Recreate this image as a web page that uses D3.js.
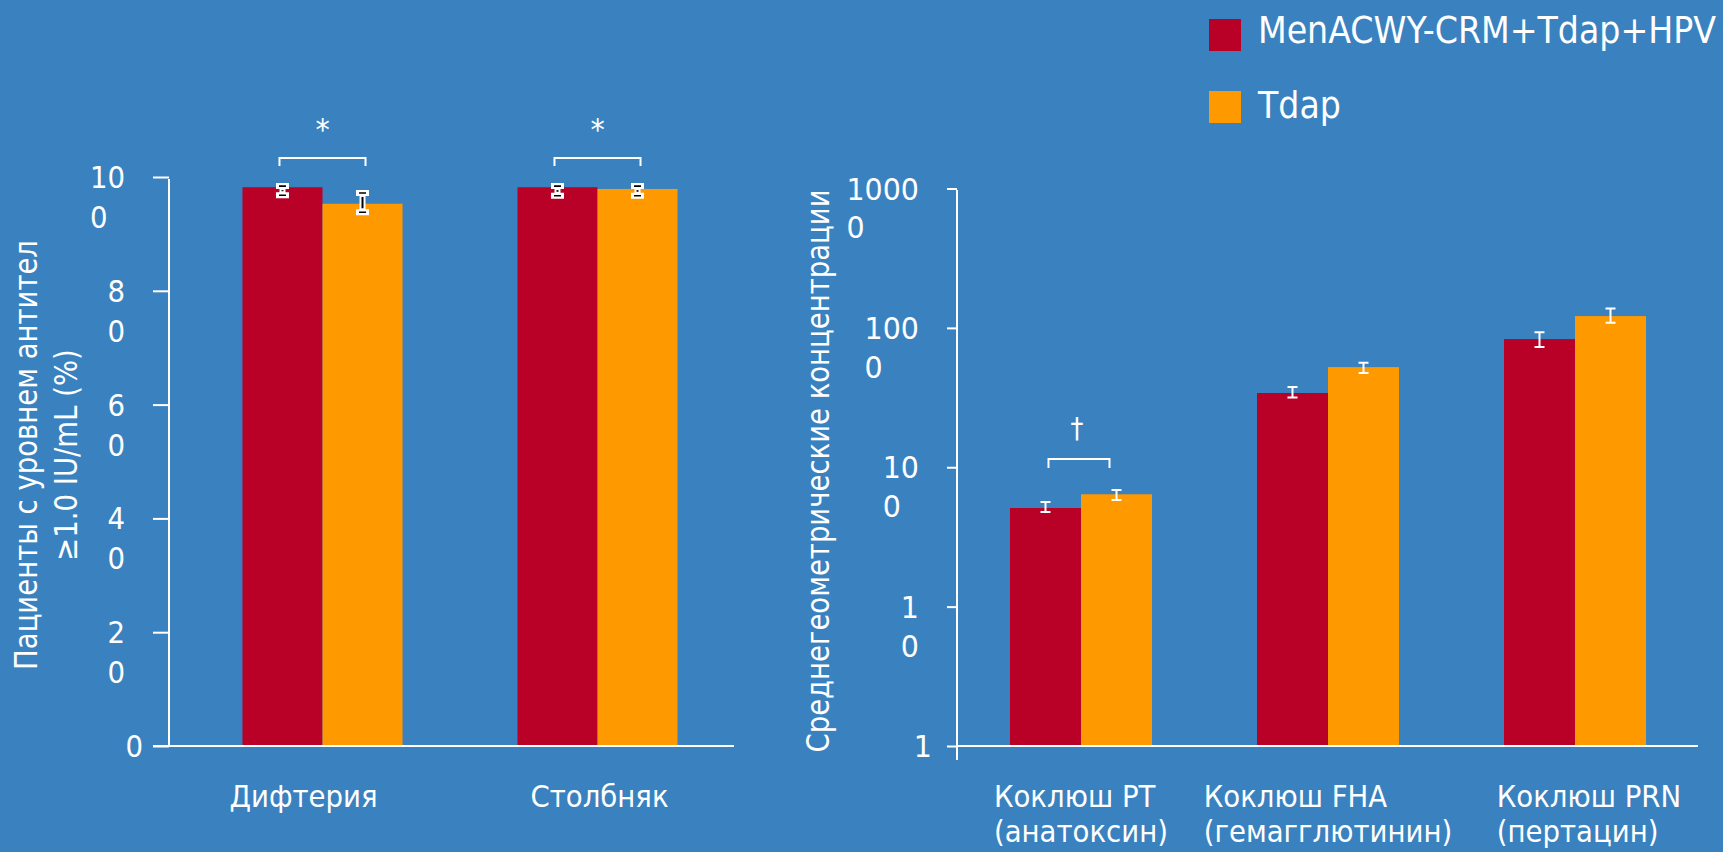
<!DOCTYPE html>
<html><head><meta charset="utf-8">
<script src="https://cdn.jsdelivr.net/npm/d3@7"></script>
<style>html,body{margin:0;padding:0;background:#3a82bf;overflow:hidden}svg{display:block}</style>
</head><body>
<svg id="chart" width="1723" height="852"></svg>
<script>
// ---------- DATA ----------
const seriesNames = ["MenACWY-CRM+Tdap+HPV", "Tdap"];
const seriesColors = ["#b90027", "#ff9900"];

const leftCategories = ["Дифтерия", "Столбняк"];
const leftValues = [[98.2, 95.3], [98.2, 97.9]];
const leftLow    = [[96.8, 93.8], [96.7, 96.7]];
const leftHigh   = [[98.4, 97.2], [98.4, 98.4]];
const leftTicks  = [0, 20, 40, 60, 80, 100];
const leftMarks  = ["*", "*"];
const leftTitle  = ["Пациенты с уровнем антител", "≥1.0 IU/mL (%)"];

const rightCategories = [["Коклюш PT", "(анатоксин)"], ["Коклюш FHA", "(гемагглютинин)"], ["Коклюш PRN", "(пертацин)"]];
const rightValues = [[51, 64], [341, 523], [831, 1215]];
const rightLow    = [[47.7, 58.2], [317, 474], [728, 1088]];
const rightHigh   = [[56.3, 68.6], [376, 562], [929, 1380]];
const rightTicks  = [1, 10, 100, 1000, 10000];
const rightMarks  = ["†", "", ""];
const rightTitle  = "Среднегеометрические концентрации";

// ---------- STYLE / LAYOUT ----------
const FONT = "'DejaVu Sans', Verdana, sans-serif";
const SX = 0.92;           // horizontal condensing for labels (Tahoma-like)
const SX_TITLE = 0.86;
const SX_LEGEND = 0.875;
const WHITE = "#ffffff";
const svg = d3.select("#chart");
svg.append("rect").attr("width", 1723).attr("height", 852).attr("fill", "#3a82bf");

function txt(g, x, y, s, size, anchor, rotate, sx) {
  const k = sx || SX;
  const grp = g.append("g").attr("transform", `translate(${x},${y})` + (rotate ? ` rotate(${rotate})` : "") + ` scale(${k},1)`);
  const t = grp.append("text").attr("x", 0).attr("y", 0).attr("fill", WHITE)
    .attr("font-family", FONT).attr("font-size", size).attr("text-anchor", anchor || "start").text(s);
  return {grp, t};
}

// tick label: number string wraps its last character onto a second line
function tickLabel(g, axisX, y, value, size, offMulti, offSingle, lineGap, baseOff) {
  const s = String(value);
  if (s.length === 1) {
    txt(g, axisX - offSingle, y + baseOff, s, size, "end");
  } else {
    const first = s.slice(0, -1), last = s.slice(-1);
    const r = txt(g, axisX - offMulti, y + baseOff, first, size, "end");
    const w = r.t.node().getComputedTextLength();
    r.grp.append("text").attr("x", -w).attr("y", lineGap).attr("fill", WHITE)
      .attr("font-family", FONT).attr("font-size", size).attr("text-anchor", "start").text(last);
  }
}

function errorBarsDark(g, cx, yLo, yHi) {
  const cw = 3.5;
  g.append("path").attr("d", `M${cx - cw},${yHi}H${cx + cw}M${cx},${yHi}V${yLo}M${cx - cw},${yLo}H${cx + cw}`)
    .attr("stroke", WHITE).attr("stroke-width", 6).attr("stroke-linecap", "square").attr("fill", "none");
  g.append("path").attr("d", `M${cx - cw},${yHi}H${cx + cw}M${cx - cw},${yLo}H${cx + cw}`)
    .attr("stroke", "#000").attr("stroke-width", 1.6).attr("fill", "none");
  if (yLo - yHi > 9) {
    g.append("line").attr("x1", cx).attr("x2", cx).attr("y1", yHi + 4).attr("y2", yLo - 4)
      .attr("stroke", "#000").attr("stroke-width", 2);
  }
}
function errorBarsLight(g, cx, yLo, yHi) {
  const cw = 5;
  g.append("path").attr("d", `M${cx - cw},${yHi}H${cx + cw}M${cx},${yHi}V${yLo}M${cx - cw},${yLo}H${cx + cw}`)
    .attr("stroke", WHITE).attr("stroke-width", 2).attr("fill", "none");
}
function bracket(g, x1, x2, y, drop) {
  g.append("path").attr("d", `M${x1},${y + drop}V${y}H${x2}V${y + drop}`)
    .attr("stroke", WHITE).attr("stroke-width", 2).attr("fill", "none");
}

// ---------- LEFT PANEL ----------
{
  const g = svg.append("g");
  const axisX = 169, baseY = 746;
  const y = d3.scaleLinear().domain([0, 100]).range([baseY, 177]);
  const x0 = d3.scaleBand().domain(leftCategories).range([185, 735]).paddingInner(0.418).paddingOuter(0.209);
  const x1 = d3.scaleBand().domain(seriesNames).range([0, x0.bandwidth()]);

  leftCategories.forEach((c, i) => {
    seriesNames.forEach((s, j) => {
      g.append("rect").attr("x", x0(c) + x1(s)).attr("width", x1.bandwidth())
        .attr("y", y(leftValues[i][j])).attr("height", baseY - y(leftValues[i][j]))
        .attr("fill", seriesColors[j]);
    });
  });
  const ax = g.append("g").attr("transform", `translate(${axisX},0)`)
    .call(d3.axisLeft(y).tickValues(leftTicks).tickSize(16).tickSizeOuter(0).tickFormat(""));
  ax.select(".domain").attr("stroke", WHITE).attr("stroke-width", 2).attr("d", `M0,179V${baseY}`);
  ax.selectAll(".tick line").attr("stroke", WHITE).attr("stroke-width", 2);
  g.append("line").attr("x1", axisX - 16).attr("x2", 734).attr("y1", baseY).attr("y2", baseY)
    .attr("stroke", WHITE).attr("stroke-width", 2);
  leftTicks.forEach(v => tickLabel(g, axisX, y(v), v, 30, 44, 26, 40, 11));

  leftCategories.forEach((c, i) => {
    seriesNames.forEach((s, j) => {
      const cx = x0(c) + x1(s) + x1.bandwidth() / 2;
      errorBarsDark(g, cx, y(leftLow[i][j]), y(leftHigh[i][j]));
    });
  });
  const labelShift = [-19, 2];
  leftCategories.forEach((c, i) => {
    const cA = x0(c) + x1(seriesNames[0]) + x1.bandwidth() / 2;
    const cB = x0(c) + x1(seriesNames[1]) + x1.bandwidth() / 2;
    const top = d3.min(leftHigh[i].map(v => y(v)));
    if (leftMarks[i]) {
      bracket(g, cA - 3, cB + 3, top - 28, 8);
      txt(g, (cA + cB) / 2, top - 46, leftMarks[i], 31, "middle");
    }
    txt(g, x0(c) + x0.bandwidth() / 2 + labelShift[i], 807, c, 30, "middle");
  });
  txt(g, 37, 455, leftTitle[0], 32, "middle", -90, SX_TITLE);
  txt(g, 77, 455, leftTitle[1], 32, "middle", -90, SX_TITLE);
}

// ---------- RIGHT PANEL ----------
{
  const g = svg.append("g");
  const axisX = 957, baseY = 746;
  const y = d3.scaleLog().domain([1, 10000]).range([baseY, 188.5]);
  const x0 = d3.scaleBand().domain(rightCategories.map(d => d[0])).range([957.5, 1698.5]).paddingInner(0.425).paddingOuter(0.2125);
  const x1 = d3.scaleBand().domain(seriesNames).range([0, x0.bandwidth()]);

  rightCategories.forEach((c, i) => {
    seriesNames.forEach((s, j) => {
      g.append("rect").attr("x", x0(c[0]) + x1(s)).attr("width", x1.bandwidth())
        .attr("y", y(rightValues[i][j])).attr("height", baseY - y(rightValues[i][j]))
        .attr("fill", seriesColors[j]);
    });
  });
  const ax = g.append("g").attr("transform", `translate(${axisX},0)`)
    .call(d3.axisLeft(y).tickValues(rightTicks).tickSize(10).tickSizeOuter(0).tickFormat(""));
  ax.select(".domain").attr("stroke", WHITE).attr("stroke-width", 2).attr("d", `M0,190V760`);
  ax.selectAll(".tick line").attr("stroke", WHITE).attr("stroke-width", 2);
  g.append("line").attr("x1", axisX).attr("x2", 1698).attr("y1", baseY).attr("y2", baseY)
    .attr("stroke", WHITE).attr("stroke-width", 2);
  rightTicks.forEach(v => tickLabel(g, axisX, y(v), v, 31, 38, 25, 39, 11));

  rightCategories.forEach((c, i) => {
    seriesNames.forEach((s, j) => {
      const cx = x0(c[0]) + x1(s) + x1.bandwidth() / 2;
      errorBarsLight(g, cx, y(rightLow[i][j]), y(rightHigh[i][j]));
    });
  });
  const labelShift = [0, 0, 14];
  rightCategories.forEach((c, i) => {
    const cA = x0(c[0]) + x1(seriesNames[0]) + x1.bandwidth() / 2;
    const cB = x0(c[0]) + x1(seriesNames[1]) + x1.bandwidth() / 2;
    const top = d3.min(rightHigh[i].map(v => y(v)));
    if (rightMarks[i]) {
      bracket(g, cA + 3, cB - 7, top - 31, 9);
      txt(g, (cA + cB) / 2 - 4, top - 52, rightMarks[i], 28, "middle");
    }
    const cx = x0(c[0]) + x0.bandwidth() / 2 + labelShift[i];
    const tmp = svg.append("text").attr("font-family", FONT).attr("font-size", 30);
    const w = d3.max(c.map(s => { tmp.text(s); return tmp.node().getComputedTextLength(); })) * SX;
    tmp.remove();
    c.forEach((s, k) => txt(g, cx - w / 2, 807 + k * 35, s, 30, "start"));
  });
  txt(g, 829, 471, rightTitle, 32, "middle", -90, SX_TITLE);
}

// ---------- LEGEND ----------
{
  const g = svg.append("g");
  seriesNames.forEach((s, j) => {
    g.append("rect").attr("x", 1209).attr("y", 19 + j * 72).attr("width", 32).attr("height", 32).attr("fill", seriesColors[j]);
    txt(g, 1258, 43 + j * 75, s, 38, "start", 0, SX_LEGEND);
  });
}
</script>
</body></html>
